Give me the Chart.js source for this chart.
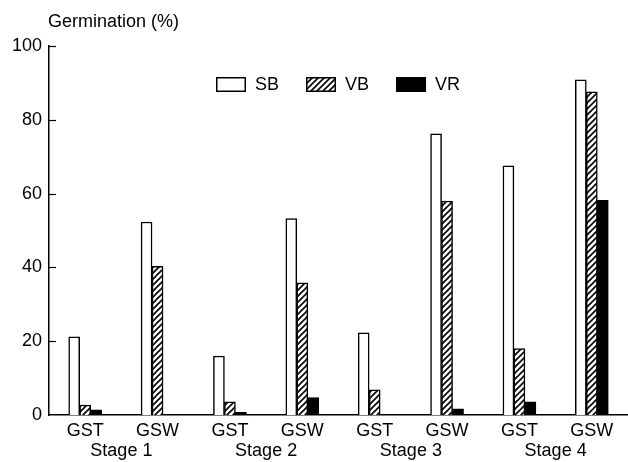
<!DOCTYPE html>
<html>
<head>
<meta charset="utf-8">
<script src="https://cdn.jsdelivr.net/npm/chart.js@4/dist/chart.umd.min.js"></script>
<style>
  html, body { margin: 0; padding: 0; background: #fff; }
  #wrap { width: 628px; height: 462px; }
  canvas { display: block; }
</style>
</head>
<body>
<div id="wrap"><canvas id="c" width="628" height="462"></canvas></div>
<script>
const categories = ["GST", "GSW", "GST", "GSW", "GST", "GSW", "GST", "GSW"];
const stageLabels = ["Stage 1", "Stage 2", "Stage 3", "Stage 4"];
const yTicks = [0, 20, 40, 60, 80, 100];
const sbValues = [21.2, 52.3, 16.0, 53.2, 22.3, 76.2, 67.5, 90.8];
const vbValues = [2.7, 40.3, 3.6, 35.8, 6.8, 58.0, 18.0, 87.6];
const vrValues = [1.4, 0, 0.7, 4.7, 0, 1.7, 3.6, 58.2];

const FONT = "'Liberation Sans', Arial, Helvetica, sans-serif";

function hatchPattern() {
  const s = 6;
  const p = document.createElement('canvas');
  p.width = s; p.height = s;
  const g = p.getContext('2d');
  g.fillStyle = '#fff';
  g.fillRect(0, 0, s, s);
  g.strokeStyle = '#000';
  g.lineWidth = 1.6;
  g.beginPath();
  g.moveTo(-1, s + 1); g.lineTo(s + 1, -1);
  g.moveTo(-1, 1); g.lineTo(1, -1);
  g.moveTo(s - 1, s + 1); g.lineTo(s + 1, s - 1);
  g.stroke();
  return document.getElementById('c').getContext('2d').createPattern(p, 'repeat');
}

const decor = {
  id: 'decor',
  afterDraw(chart) {
    const ctx = chart.ctx;
    const y = chart.scales.y;
    const area = chart.chartArea;
    const left = area.left;
    ctx.save();
    // inward tick marks
    ctx.strokeStyle = '#000';
    ctx.lineWidth = 1.2;
    yTicks.forEach(v => {
      if (v === 0) return;
      const py = Math.round(y.getPixelForValue(v)) + 0.5;
      ctx.beginPath();
      ctx.moveTo(left, py);
      ctx.lineTo(left + 7, py);
      ctx.stroke();
    });
    // axis title
    ctx.fillStyle = '#000';
    ctx.font = "18px " + FONT;
    ctx.textAlign = 'left';
    ctx.textBaseline = 'middle';
    ctx.fillText('Germination (%)', left - 1, 22);
    // legend
    const boxW = 30, boxH = 15, gap = 9, itemGap = 27;
    const ds = chart.data.datasets;
    const widths = ds.map(d => boxW + gap + ctx.measureText(d.label).width);
    const total = widths.reduce((a, b) => a + b, 0) + itemGap * (ds.length - 1);
    let x = Math.round((area.left + area.right) / 2 - total / 2);
    const top = 77;
    ds.forEach((d, i) => {
      ctx.fillStyle = d.backgroundColor;
      ctx.fillRect(x, top, boxW, boxH);
      ctx.strokeStyle = '#000';
      ctx.lineWidth = 1.5;
      ctx.strokeRect(x + 0.75, top + 0.75, boxW - 1.5, boxH - 1.5);
      ctx.fillStyle = '#000';
      ctx.fillText(d.label, x + boxW + gap, top + boxH / 2 + 1);
      x += widths[i] + itemGap;
    });
    ctx.restore();
  }
};

const hatch = hatchPattern();

new Chart(document.getElementById('c'), {
  type: 'bar',
  data: {
    labels: categories,
    datasets: [
      { label: 'SB', data: sbValues, backgroundColor: '#fff', borderColor: '#000', borderWidth: 1.5 },
      { label: 'VB', data: vbValues, backgroundColor: hatch, borderColor: '#000', borderWidth: 1.5 },
      { label: 'VR', data: vrValues, backgroundColor: '#000', borderColor: '#000', borderWidth: 1.5 }
    ]
  },
  options: {
    responsive: false,
    animation: false,
    layout: { padding: { top: 46, right: 0, left: 0, bottom: 0 } },
    datasets: { bar: { barThickness: 11 } },
    plugins: {
      legend: { display: false },
      tooltip: { enabled: false },
      title: { display: false }
    },
    scales: {
      x: {
        type: 'category',
        position: 'bottom',
        grid: { display: false, drawTicks: false },
        border: { display: true, color: '#000', width: 1.5 },
        ticks: { color: '#000', font: { family: FONT, size: 18 }, padding: 5, maxRotation: 0, autoSkip: false },
        afterFit(scale) { scale.height = 25; }
      },
      x2: {
        type: 'category',
        position: 'bottom',
        labels: stageLabels,
        grid: { display: false, drawTicks: false },
        border: { display: false },
        ticks: { color: '#000', font: { family: FONT, size: 18 }, padding: 0, maxRotation: 0, autoSkip: false },
        afterFit(scale) { scale.height = 22; }
      },
      y: {
        min: 0,
        max: 100,
        grid: { display: false, drawTicks: false },
        border: { display: true, color: '#000', width: 1.5 },
        ticks: { stepSize: 20, color: '#000', font: { family: FONT, size: 18 }, padding: 7 },
        afterFit(scale) { scale.width = 49; }
      }
    }
  },
  plugins: [decor]
});
</script>
</body>
</html>
